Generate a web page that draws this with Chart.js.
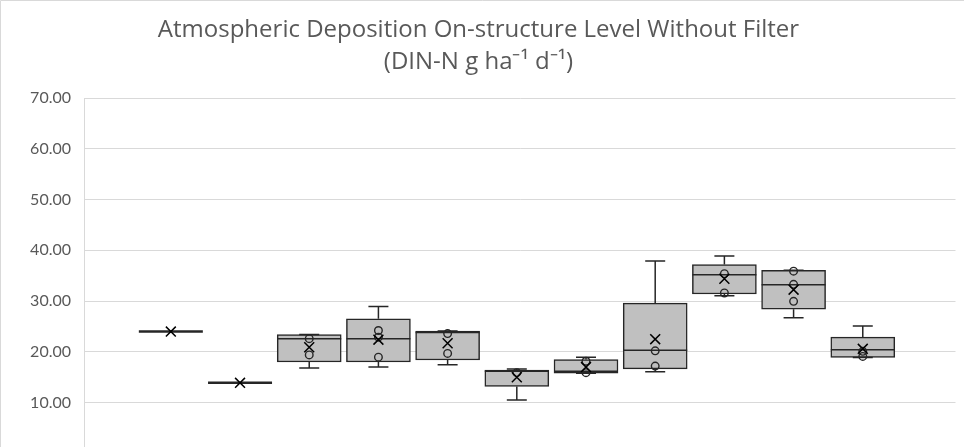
<!DOCTYPE html>
<html>
<head>
<meta charset="utf-8">
<script src="https://cdn.jsdelivr.net/npm/chart.js@4/dist/chart.umd.min.js"></script>
<style>
  html, body { margin: 0; padding: 0; background: #fff; overflow: hidden; }
  #wrap { width: 964px; height: 476px; position: relative; }
</style>
</head>
<body>
<div id="wrap"><canvas id="box"></canvas></div>
<script>
// one box per series, left to right
const seriesNames = ['S1', 'S2', 'S3', 'S4', 'S5', 'S6', 'S7', 'S8', 'S9', 'S10', 'S11']
const whiskerMin = [24.0, 13.9, 16.8, 17.0, 17.45, 10.5, 15.8, 16.1, 31.05, 26.7, 18.9]
const q1 = [24.0, 13.9, 18.0, 18.0, 18.4, 13.2, 15.8, 16.65, 31.4, 28.4, 18.9]
const median = [24.0, 13.9, 22.6, 22.6, 23.8, 16.2, 16.2, 20.3, 35.2, 33.2, 20.4]
const q3 = [24.0, 13.9, 23.4, 26.5, 24.1, 16.4, 18.5, 29.6, 37.2, 36.05, 22.9]
const whiskerMax = [24.0, 13.9, 23.4, 28.95, 24.1, 16.6, 18.95, 37.9, 38.9, 36.05, 25.1]
const means = [24.0, 13.9, 20.9, 22.4, 21.7, 15.0, 17.0, 22.5, 34.4, 32.25, 20.6]
const innerPoints = [
  [], [], [22.6, 19.4], [24.2, 22.9, 18.95], [23.6, 19.7], [15.9],
  [18.15, 15.9], [20.2, 17.2], [35.4, 31.6], [35.9, 33.3, 29.95], [20.1, 19.1]
]
const yTicks = [0, 10, 20, 30, 40, 50, 60, 70]

const BOX_W = 64
const CAP_W = 20
const INK = '#262626'

const boxData = seriesNames.map((s, i) => ({ x: i + 1, y: [q1[i], q3[i]] }))
const meanData = means.map((m, i) => ({ x: i + 1, y: m }))
const pointData = []
innerPoints.forEach((pts, i) => pts.forEach(v => pointData.push({ x: i + 1, y: v })))

// whiskers, caps and median lines drawn right after the boxes
const boxExtras = {
  id: 'boxExtras',
  afterDatasetDraw(chart, args) {
    if (args.index !== 0) return
    const { ctx, scales: { x, y } } = chart
    ctx.save()
    ctx.strokeStyle = INK
    ctx.lineWidth = 1.5
    seriesNames.forEach((s, i) => {
      const cx = x.getPixelForValue(i + 1)
      if (whiskerMax[i] !== whiskerMin[i]) {
        const yMax = y.getPixelForValue(whiskerMax[i])
        const yMin = y.getPixelForValue(whiskerMin[i])
        const yQ3 = y.getPixelForValue(q3[i])
        const yQ1 = y.getPixelForValue(q1[i])
        ctx.beginPath()
        ctx.moveTo(cx, yQ3); ctx.lineTo(cx, yMax)
        ctx.moveTo(cx - CAP_W / 2, yMax); ctx.lineTo(cx + CAP_W / 2, yMax)
        ctx.moveTo(cx, yQ1); ctx.lineTo(cx, yMin)
        ctx.moveTo(cx - CAP_W / 2, yMin); ctx.lineTo(cx + CAP_W / 2, yMin)
        ctx.stroke()
      }
      const yMed = y.getPixelForValue(median[i])
      ctx.lineWidth = q1[i] === q3[i] ? 2.5 : 1.5
      ctx.beginPath()
      ctx.moveTo(cx - BOX_W / 2, yMed); ctx.lineTo(cx + BOX_W / 2, yMed)
      ctx.stroke()
      ctx.lineWidth = 1.5
    })
    ctx.restore()
  }
}

const frame = {
  id: 'frame',
  beforeDraw(chart) {
    const ctx = chart.ctx
    ctx.save()
    ctx.strokeStyle = '#d9d9d9'
    ctx.lineWidth = 1
    ctx.beginPath()
    ctx.moveTo(0.5, chart.height); ctx.lineTo(0.5, 0.5); ctx.lineTo(chart.width, 0.5)
    ctx.stroke()
    ctx.restore()
  }
}

const ctx = document.getElementById('box').getContext('2d')
new Chart(ctx, {
  type: 'bar',
  plugins: [boxExtras, frame],
  data: {
    datasets: [
      {
        label: 'Box',
        data: boxData,
        backgroundColor: '#c0c0c0',
        borderColor: INK,
        borderWidth: 1.5,
        borderSkipped: false,
        barThickness: BOX_W,
        order: 3
      },
      {
        type: 'scatter',
        label: 'Points',
        data: pointData,
        pointStyle: 'circle',
        radius: 3.8,
        borderColor: INK,
        borderWidth: 1.4,
        backgroundColor: 'rgba(0,0,0,0)',
        order: 2
      },
      {
        type: 'scatter',
        label: 'Mean',
        data: meanData,
        pointStyle: 'crossRot',
        radius: 7,
        borderColor: '#000',
        borderWidth: 1.5,
        order: 1
      }
    ]
  },
  options: {
    responsive: true,
    maintainAspectRatio: false,
    animation: false,
    events: [],
    layout: { padding: { left: 0, right: 7, top: 0, bottom: 2 } },
    plugins: {
      legend: { display: false },
      tooltip: { enabled: false },
      title: {
        display: true,
        text: ['Atmospheric Deposition On-structure Level Without Filter', '(DIN-N g ha\u207B\u00B9 d\u207B\u00B9)'],
        color: '#595959',
        font: { family: 'Open Sans', size: 24, weight: 'normal', lineHeight: '32px' },
        padding: { top: 14, bottom: 20 }
      }
    },
    scales: {
      x: {
        type: 'linear',
        display: false,
        offset: false,
        min: -0.255,
        max: 12.34
      },
      y: {
        min: 0,
        max: 70,
        afterFit: (s) => { s.width = 84 },
        afterBuildTicks: (s) => { s.ticks = yTicks.map(v => ({ value: v })) },
        border: { display: true, color: '#d9d9d9', width: 1 },
        grid: { color: '#d9d9d9', lineWidth: 1, drawTicks: false },
        ticks: {
          padding: 13,
          color: '#595959',
          font: { family: 'Lato', size: 16 },
          callback: (v) => v === 0 ? '' : v.toFixed(2)
        }
      }
    }
  }
})
</script>
</body>
</html>
